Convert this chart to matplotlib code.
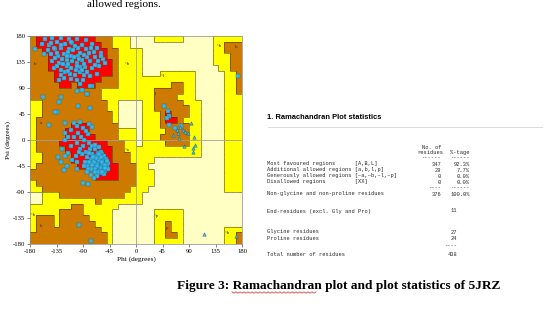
import numpy as np
import matplotlib.pyplot as plt
from matplotlib.colors import ListedColormap
from matplotlib.collections import LineCollection
from matplotlib.lines import Line2D

plt.rcParams['axes.unicode_minus'] = False

W_PX, H_PX = 548, 319

# PROCHECK region map, 10 degree cells, rows from psi=180 down, cols from phi=-180
# R core, B allowed, Y generously allowed, W disallowed
region_rows = [
    "BRRRRRRRRRRBBBYYYWWWWYYYYYWWWWWYYYYY",
    "BRRRRRRRRRRRBBYYYWWWWWWWWWWWWWWYYBBB",
    "BBRRRRRRRRRRRBBYYYYWWWWWWWWWWWWYYBBB",
    "BBBRRRRRRRRRRBBYYYYWWWWWWWWWWWWYYYBB",
    "BBBRRRRRRRRRRRBYYYYWWWWWWWWWWWWYYYBB",
    "BBBRRRRRRRRRRRBYYYYWWWWWWWWWWWWWYYBB",
    "BBBBRRRRRRRRRRBYYYYWWWYYYYYYWWWWWYYB",
    "BBBBRRRRRRRRBBBYYYYYYYYYYYYYWWWWWYYB",
    "BBBBBRRBRRRBBBBYYYYYYYYYBBYYWWWWWYYB",
    "BBBBBBBBBBBBYYYYYYYYYBBBBBYYWWWWWYYB",
    "BBBBBBBBBBBBYYYYYYYYYBBBBYYYWWWWWYYY",
    "YYBBBBBBBBBBBYYWWWWYYBBBBBYYYWWWWYYY",
    "YYBBBBBBBBBBBYYWWWWYYBBBBBBYYWWWWYYY",
    "YYBBBBBBBBBBBBYWWWWYYYBRBBBYYWWWWYYY",
    "YBBBBBBBBBBBBBYWWWWYYYBRRBYYYWWWWYYY",
    "YBBBBBBRRRBBBBBWWWWYYYBBBBBYYWWWWYYY",
    "YBBBBBRRRRBBBBBYYYWYYYYBBBBYYWWWWYYY",
    "YBBBBBRRRRRBBBBYYYWYYYBBBBBYYWWWWYYY",
    "YBBBBRRRRRRRRBBBYYWYYYYBBBBYYWWWWYYY",
    "YBBBBBRRRRRRRRBBYYYYYYYYYYYYYWWWWYYY",
    "YYBBBBBRRRRRRRBBBYYYYYYYYYYYYWWWWYYY",
    "YYBBBBBRRRRRRRBBBYYYYWWWWWWWWWWWWYYY",
    "YBBBBBBBRRRRRRRBBBYYWWWWWWWWWWWWWYYY",
    "BBBBBBBBBBBRRRRBBBYYYWWWWWWWWWWWWYYY",
    "BBBBBBBBBBBRRRRBBBYYYWWWWWWWWWWWWYYY",
    "YBBBBBBBBBBBBBBBBBYYYWWWWWWWWWWWWYYY",
    "YYBBBBBBBBBBBBBBBYYYWWWWWWWWWWWWWYYY",
    "WWYYYBBBBBBBBBBBYYYWWWWWWWWWWWWWWWWW",
    "WWYYYYYYYYYBYYYYYYYWWWWWWWWWWWWWWWWW",
    "YYYYYYYBBYYYYYYWWWWWWWWWWWWWWWWWWWWW",
    "YYYYYBBBBYYYYYWWWWWWWYYYYYWWWWWWWWWW",
    "YBBBYBBBBBYYYYWWWWWWWYYYYYWWWWWWWWWW",
    "YBBBYBBBBBBYYYWWWWWWWYYBYYWWWWWWWWWW",
    "YBBBBBBBBBBBYYWWWWWWWYYBYYWWWWWWWYYY",
    "BBBBBBBBBBBBBYWWWWWWWYYBBYWWWWWWWYYB",
    "BBBBBBBBBBBBBYWWWWWWWYYYYYWWWWWWWYYB",
]
region_codes = "WYBR"
region_colors = ['#ffffc4', '#ffff00', '#cc7a00', '#ff0000']

region_labels = [('B', -163, 168), ('b', -171, 131), ('~b', -14, 131),
                 ('a', -161, 29), ('~a', -15, -17), ('l', 34, 80),
                 ('~l', 46, 111), ('~p', 35, -131), ('p', 53, -152),
                 ('b', -161, -149), ('~b', -175, -130), ('~b', 141, 162),
                 ('b', 170, 161), ('~b', 155, -161)]

beta_pts = [(-155, 175), (-143, 176), (-127, 176), (-113, 175), (-100, 175), (-85, 173),
            (-160, 166), (-148, 165), (-135, 169), (-120, 166), (-108, 168), (-91, 165),
            (-74, 166), (-66, 160), (-172, 157), (-150, 155), (-138, 157), (-127, 159),
            (-113, 157), (-99, 160), (-85, 157), (-71, 153), (-60, 150), (-145, 148),
            (-133, 146), (-122, 149), (-110, 146), (-98, 145), (-84, 144), (-70, 143),
            (-56, 141), (-142, 137), (-130, 134), (-118, 138), (-109, 136), (-100, 133),
            (-92, 139), (-78, 136), (-65, 137), (-52, 133), (-140, 125), (-128, 122),
            (-118, 128), (-110, 124), (-102, 121), (-95, 127), (-86, 126), (-74, 125),
            (-62, 128), (-112, 115), (-104, 112), (-95, 117), (-88, 113), (-78, 111),
            (-67, 115), (-110, 106), (-100, 103), (-90, 104), (-123, 108), (-131, 104),
            (-95, 97), (-75, 93), (-125, 140), (-115, 152), (-105, 143), (-95, 150),
            (-88, 131), (-120, 118), (-135, 150), (-103, 163), (-80, 150), (-92, 121),
            (-116, 132), (-140, 160), (-128, 113), (-83, 118), (-70, 130), (-60, 145),
            (-145, 168), (-157, 148), (-110, 170), (-97, 140), (-134, 128), (-124, 131),
            (-101, 128), (-89, 147), (-107, 156), (-77, 160), (-115, 120), (-138, 142),
            (-128, 165), (-118, 145)]

loop_pts = [(-101, 84), (-84, 80), (-127, 74), (-130, 65), (-98, 59), (-135, 48),
            (-158, 74), (-138, 48), (-78, 55), (-83, 79), (-92, 86), (-78, 93),
            (-148, 26), (-121, 30), (-81, -77), (-96, -147), (-77, -174), (-122, -52),
            (-117, -45), (-100, -38)]

alpha_pts = [(-62, -40), (-58, -45), (-65, -38), (-60, -35), (-55, -42), (-68, -43),
             (-63, -48), (-57, -30), (-52, -38), (-70, -35), (-66, -30), (-59, -52),
             (-54, -48), (-72, -47), (-61, -27), (-67, -52), (-50, -45), (-75, -40),
             (-64, -44), (-56, -36), (-69, -39), (-60, -57), (-53, -53), (-71, -28),
             (-58, -24), (-65, -33), (-62, -50), (-48, -40), (-77, -33), (-73, -52),
             (-55, -28), (-64, -22), (-68, -47), (-59, -41), (-51, -33), (-66, -58),
             (-57, -47), (-62, -31), (-70, -44), (-74, -25), (-60, -20), (-79, -45),
             (-54, -58), (-47, -50), (-63, -37), (-67, -35), (-56, -40), (-61, -44),
             (-58, -34), (-65, -49), (-60, -38), (-64, -41), (-58, -43), (-62, -46),
             (-66, -41), (-56, -44), (-60, -49), (-63, -34), (-67, -45), (-57, -38),
             (-53, -43), (-61, -53), (-69, -50), (-65, -27), (-55, -50), (-59, -29),
             (-72, -38), (-52, -48), (-64, -55), (-68, -31), (-74, -44), (-49, -36),
             (-58, -56), (-62, -24), (-70, -56), (-77, -50), (-66, -62), (-73, -30),
             (-80, -38), (-84, -45), (-85, -20), (-90, -10), (-95, -15), (-80, -5),
             (-88, 0), (-100, -5), (-105, 5), (-92, -25), (-84, -30), (-97, -20),
             (-110, -10), (-78, -15), (-86, -38), (-93, 5), (-102, -28), (-81, -50),
             (-89, -45), (-115, -22), (-120, 0), (-75, -10), (-70, -15), (-82, 10),
             (-98, 12), (-108, -35), (-76, -60), (-71, -65), (-84, -55), (-69, -8),
             (-63, -12), (-79, -22), (-90, 20), (-100, 25), (-110, 18), (-80, 28),
             (-95, 32), (-120, 12), (-85, 15), (-75, 22), (-105, 30), (-115, 5),
             (-125, -15), (-120, -28), (-132, -30), (-90, -75), (-100, -50), (-128, -38)]

left_l_pts = [(47, 59), (55, 50), (56, 41), (52, 38), (56, 26), (66, 20),
              (77, 24), (173, 110)]

gly_pts = [(75, 23), (69, 17), (79, 17), (94, 29), (63, 9), (73, 3), (83, 14),
           (88, 12), (98, 5), (81, -11), (100, -9), (97, -14), (96, -20), (71, 12),
           (115, -163), (170, -167)]

xticks = [-180, -135, -90, -45, 0, 45, 90, 135, 180]

table_title = "1. Ramachandran Plot statistics"
row_labels = ["Most favoured regions      [A,B,L]",
              "Additional allowed regions [a,b,l,p]",
              "Generously allowed regions [~a,~b,~l,~p]",
              "Disallowed regions         [XX]"]
row_counts = ["347", "29", "0", "0"]
row_pcts = ["92.3%", "7.7%", "0.0%", "0.0%"]
nonpg_label = "Non-glycine and non-proline residues"
nonpg_count, nonpg_pct = "376", "100.0%"
extra_labels = ["End-residues (excl. Gly and Pro)", "Glycine residues",
                "Proline residues", "Total number of residues"]
extra_counts = ["11", "27", "24", "438"]
caption = "Figure 3: Ramachandran plot and plot statistics of 5JRZ"


def fx(x):
    return x / W_PX


def fy(y):
    return 1 - y / H_PX


fig = plt.figure(figsize=(W_PX / 100, H_PX / 100), dpi=100)
ax = fig.add_axes([fx(30), fy(244), 212 / W_PX, 208 / H_PX])

assert all(len(r) == 36 for r in region_rows) and len(region_rows) == 36
Z = np.array([[region_codes.index(c) for c in r] for r in region_rows])
phi_e = np.arange(-180, 181, 10)
psi_e = np.arange(180, -181, -10)
ax.pcolormesh(phi_e, psi_e, Z, cmap=ListedColormap(region_colors),
              vmin=-0.5, vmax=3.5, shading='flat')

segs = []
for i in range(36):
    for j in range(35):
        if Z[i, j] != Z[i, j + 1]:
            segs.append([(phi_e[j + 1], psi_e[i]), (phi_e[j + 1], psi_e[i + 1])])
for i in range(35):
    for j in range(36):
        if Z[i, j] != Z[i + 1, j]:
            segs.append([(phi_e[j], psi_e[i + 1]), (phi_e[j + 1], psi_e[i + 1])])
ax.add_collection(LineCollection(segs, colors='#4a3300', linewidths=0.5, alpha=0.75))

ax.axhline(0, color='#a0a0a0', lw=0.6, zorder=2)
ax.axvline(0, color='#a0a0a0', lw=0.6, zorder=2)

for lab, p, q in region_labels:
    ax.text(p, q, lab, fontsize=3.5, family='Liberation Serif', color='#3a2a00',
            ha='center', va='center', zorder=2)

sq = beta_pts + loop_pts + alpha_pts + left_l_pts
ax.scatter([p for p, q in sq], [q for p, q in sq], marker='s', s=5,
           c='#3cb6e6', edgecolors='#1d6f92', linewidths=0.3, zorder=3)
ax.scatter([p for p, q in gly_pts], [q for p, q in gly_pts], marker='^', s=6,
           c='#3cb6e6', edgecolors='#1d5f80', linewidths=0.3, zorder=3)

ax.set_xlim(-180, 180)
ax.set_ylim(-180, 180)
ax.set_xticks(xticks)
ax.set_yticks(xticks)
ax.tick_params(direction='out', length=2.5, width=0.5, color='#555555',
               labelsize=4.8, pad=1)
for t in ax.get_xticklabels() + ax.get_yticklabels():
    t.set_family('Liberation Serif')
for s in ax.spines.values():
    s.set_color('#888888')
    s.set_linewidth(0.5)
ax.set_xlabel('Phi (degrees)', fontsize=5.2, family='Liberation Serif', labelpad=2)
ax.set_ylabel('Psi (degrees)', fontsize=5.2, family='Liberation Serif', labelpad=1)

# text line at the top of the page (cut off in the source)
fig.text(fx(87), fy(7), "allowed regions.", fontsize=8, family='Liberation Serif',
         va='baseline')

# statistics table
mono = dict(family='Liberation Mono', fontsize=3.9, color='#2a2a2a', va='center')
fig.text(fx(267), fy(118), table_title, family='Liberation Sans', fontsize=5.4,
         weight='bold', va='center')
fig.add_artist(Line2D([fx(268), fx(542)], [fy(127), fy(127)], color='#d6d6d6', lw=0.6))
fig.text(fx(441), fy(147), "No. of", ha='right', **mono)
fig.text(fx(443), fy(153), "residues", ha='right', **mono)
fig.text(fx(441), fy(158), "------", ha='right', **mono)
fig.text(fx(470), fy(153), "%-tage", ha='right', **mono)
fig.text(fx(470), fy(158), "------", ha='right', **mono)
for k, (lab, c, p) in enumerate(zip(row_labels, row_counts, row_pcts)):
    yy = 164 + 6 * k
    fig.text(fx(267), fy(yy), lab, ha='left', **mono)
    fig.text(fx(441), fy(yy), c, ha='right', **mono)
    fig.text(fx(470), fy(yy), p, ha='right', **mono)
fig.text(fx(441), fy(188), "----", ha='right', **mono)
fig.text(fx(470), fy(188), "------", ha='right', **mono)
fig.text(fx(267), fy(194), nonpg_label, ha='left', **mono)
fig.text(fx(441), fy(194), nonpg_count, ha='right', **mono)
fig.text(fx(470), fy(194), nonpg_pct, ha='right', **mono)
for lab, c, yy in zip(extra_labels, extra_counts, [211, 232, 239, 254]):
    fig.text(fx(267), fy(yy), lab, ha='left', **mono)
    fig.text(fx(457), fy(yy), c, ha='right', **mono)
fig.text(fx(457), fy(246), "----", ha='right', **mono)

# caption
fig.text(fx(177), fy(289), caption, family='Liberation Serif', fontsize=9.6,
         weight='bold', va='baseline')
wx = np.arange(232, 317, 2.0)
wy = 292.5 + np.where(np.arange(wx.size) % 2 == 0, -0.7, 0.7)
fig.add_artist(Line2D(fx(wx), fy(wy), color='#e02020', lw=0.5))

fig.savefig('out.png', dpi=100)
